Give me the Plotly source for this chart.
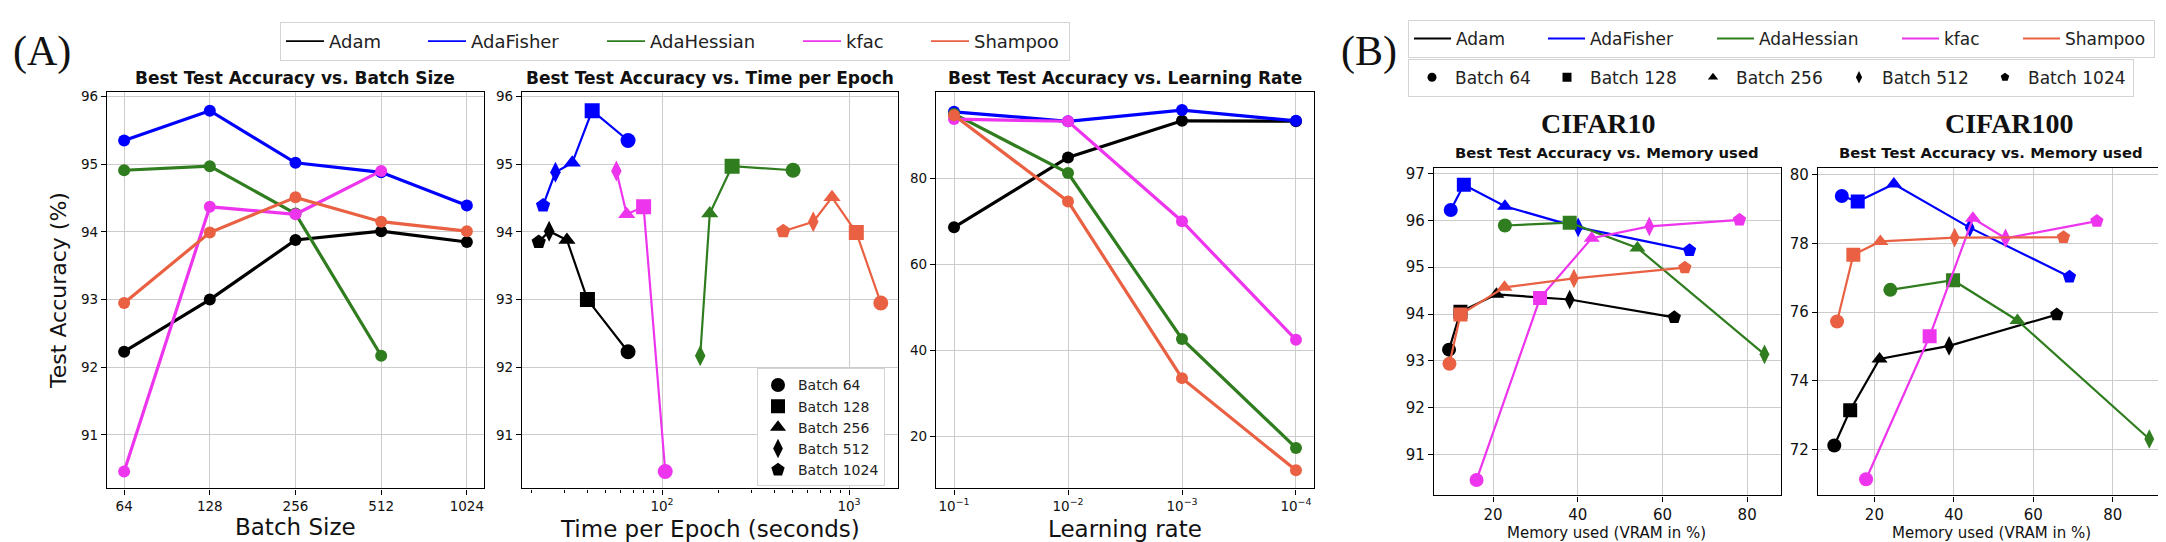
import plotly.graph_objects as go

W, H = 2166, 542

# ---------------- data ----------------
optimizers = ["Adam", "AdaFisher", "AdaHessian", "kfac", "Shampoo"]
colors = ["black", "#0000ff", "#2f7d1f", "#ee35ee", "#e96142"]

batch_sizes = [64, 128, 256, 512, 1024]
batch_labels = ["Batch 64", "Batch 128", "Batch 256", "Batch 512", "Batch 1024"]
batch_symbols = ["circle", "square", "triangle-up", "diamond-tall", "pentagon"]

# best test accuracy (CIFAR10) per batch size, None = no run
acc_adam = [92.23, 93.00, 93.88, 94.01, 93.85]
acc_adafisher = [95.35, 95.79, 95.02, 94.88, 94.39]
acc_adahessian = [94.91, 94.97, 94.27, 92.17, None]
acc_kfac = [90.46, 94.37, 94.26, 94.90, None]
acc_shampoo = [92.95, 93.99, 94.51, 94.15, 94.01]

# time per epoch (seconds) per batch size
time_adam = [65.8, 39.9, 31.0, 24.9, 21.9]
time_adafisher = [65.8, 42.3, 33.1, 26.9, 23.1]
time_adahessian = [502, 237, 180, 160, None]
time_kfac = [104, 79.7, 64.7, 57.0, None]
time_shampoo = [1479, 1094, 811, 644, 445]

# best test accuracy vs learning rate
learning_rates = [1e-1, 1e-2, 1e-3, 1e-4]
lr_adam = [68.6, 84.8, 93.3, 93.2]
lr_adafisher = [95.4, 93.2, 95.8, 93.3]
lr_adahessian = [94.9, 81.2, 42.7, 17.4]
lr_kfac = [93.7, 93.2, 70.0, 42.5]
lr_shampoo = [94.6, 74.6, 33.6, 12.2]

# memory used (VRAM %) and accuracy, CIFAR10
mem10_adam = [9.6, 12.3, 20.8, 38.1, 62.8]
mem10_adafisher = [10.0, 13.1, 22.8, 40.1, 66.4]
mem10_adahessian = [22.8, 38.1, 54.1, 84.1, None]
mem10_kfac = [16.1, 31.1, 43.3, 56.9, 78.2]
mem10_shampoo = [9.7, 12.3, 22.7, 39.1, 65.3]
c10_adam = [93.24, 94.05, 94.42, 94.31, 93.93]
c10_adafisher = [96.22, 96.76, 96.30, 95.85, 95.36]
c10_adahessian = [95.89, 95.95, 95.41, 93.14, None]
c10_kfac = [90.46, 94.34, 95.62, 95.87, 96.01]
c10_shampoo = [92.94, 93.99, 94.57, 94.76, 94.99]

# memory used (VRAM %) and accuracy, CIFAR100
mem100_adam = [9.9, 13.9, 21.3, 38.8, 65.9]
mem100_adafisher = [11.8, 15.8, 24.9, 44.0, 69.1]
mem100_adahessian = [24.0, 39.8, 56.0, 89.2, None]
mem100_kfac = [17.9, 33.9, 44.8, 53.0, 76.0]
mem100_shampoo = [10.6, 14.7, 21.5, 40.2, 67.6]
c100_adam = [72.12, 73.15, 74.64, 75.02, 75.93]
c100_adafisher = [79.38, 79.22, 79.73, 78.46, 77.03]
c100_adahessian = [76.65, 76.93, 75.76, 72.31, None]
c100_kfac = [71.14, 75.30, 78.73, 78.15, 78.65]
c100_shampoo = [75.73, 77.67, 78.06, 78.17, 78.18]

acc_batch = [acc_adam, acc_adafisher, acc_adahessian, acc_kfac, acc_shampoo]
time_batch = [time_adam, time_adafisher, time_adahessian, time_kfac, time_shampoo]
acc_lr = [lr_adam, lr_adafisher, lr_adahessian, lr_kfac, lr_shampoo]
mem10 = [mem10_adam, mem10_adafisher, mem10_adahessian, mem10_kfac, mem10_shampoo]
acc10 = [c10_adam, c10_adafisher, c10_adahessian, c10_kfac, c10_shampoo]
mem100 = [mem100_adam, mem100_adafisher, mem100_adahessian, mem100_kfac, mem100_shampoo]
acc100 = [c100_adam, c100_adafisher, c100_adahessian, c100_kfac, c100_shampoo]


def xdom(a, b):
    return [a / W, b / W]


def ydom(top, bottom):
    return [1 - bottom / H, 1 - top / H]


fig = go.Figure()

for name, col, acc, t, lr_acc, m10, a10, m100, a100 in zip(
        optimizers, colors, acc_batch, time_batch, acc_lr, mem10, acc10, mem100, acc100):
    # batch size panel
    fig.add_trace(go.Scatter(x=batch_sizes, y=acc, mode="lines+markers", showlegend=False,
                             line=dict(color=col, width=3.2), marker=dict(size=12, color=col),
                             xaxis="x", yaxis="y"))
    # time per epoch panel
    fig.add_trace(go.Scatter(x=t, y=acc, mode="lines+markers", showlegend=False,
                             line=dict(color=col, width=2.2),
                             marker=dict(size=15, color=col, symbol=batch_symbols),
                             xaxis="x2", yaxis="y2"))
    # learning rate panel
    fig.add_trace(go.Scatter(x=learning_rates, y=lr_acc, mode="lines+markers", showlegend=False,
                             line=dict(color=col, width=3.2), marker=dict(size=12, color=col),
                             xaxis="x3", yaxis="y3"))
    # memory panels
    fig.add_trace(go.Scatter(x=m10, y=a10, mode="lines+markers", showlegend=False,
                             line=dict(color=col, width=2.2),
                             marker=dict(size=14, color=col, symbol=batch_symbols),
                             xaxis="x4", yaxis="y4"))
    fig.add_trace(go.Scatter(x=m100, y=a100, mode="lines+markers", showlegend=False,
                             line=dict(color=col, width=2.2),
                             marker=dict(size=14, color=col, symbol=batch_symbols),
                             xaxis="x5", yaxis="y5"))

# legend-only entries
lw_top = [89, 126, 143, 75, 90]
lw_b1 = [82, 117, 133, 69, 84]
lw_b2 = [84, 95, 95, 95, 100]
for name, col, w1, w2 in zip(optimizers, colors, lw_top, lw_b1):
    fig.add_trace(go.Scatter(x=[None], y=[None], mode="lines", name=name, legend="legend",
                             line=dict(color=col, width=1.8), legendwidth=w1))
    fig.add_trace(go.Scatter(x=[None], y=[None], mode="lines", name=name, legend="legend2",
                             line=dict(color=col, width=1.8), legendwidth=w2))
for lab, sym, w3 in zip(batch_labels, batch_symbols, lw_b2):
    fig.add_trace(go.Scatter(x=[None], y=[None], mode="markers", name=lab, legend="legend3",
                             marker=dict(symbol=sym, size=9, color="black"), legendwidth=w3))
    fig.add_trace(go.Scatter(x=[None], y=[None], mode="markers", name=lab, legend="legend4",
                             marker=dict(symbol=sym, size=14, color="black")))


def ax(**kw):
    d = dict(showline=True, linecolor="black", linewidth=1.3, mirror=True,
             ticks="outside", ticklen=5, tickcolor="black", tickwidth=1.1,
             showgrid=True, gridcolor="#cccccc", gridwidth=1.3, zeroline=False,
             tickfont=dict(size=13.5, color="#111111"))
    d.update(kw)
    return d


sup = ["10<sup>2</sup>", "10<sup>3</sup>"]
minor_t = [20, 30, 40, 50, 60, 70, 80, 90, 200, 300, 400, 500, 600, 700, 800, 900]

fig.update_layout(
    width=W, height=H, margin=dict(l=0, r=0, t=0, b=0),
    paper_bgcolor="white", plot_bgcolor="white",
    font=dict(family="DejaVu Sans", color="#111111"),
    xaxis=ax(domain=xdom(99, 476), anchor="y", type="log", range=[1.746, 3.0705],
             tickvals=batch_sizes, ticktext=[str(b) for b in batch_sizes]),
    yaxis=ax(domain=ydom(81, 480), anchor="x", range=[90.21, 96.06], dtick=1),
    xaxis2=ax(domain=xdom(514, 890), anchor="y2", type="log", range=[1.251, 3.262],
              tickvals=[100, 1000], ticktext=sup,
              minor=dict(tickvals=minor_t, ticks="outside", ticklen=3, tickcolor="black",
                         showgrid=False)),
    yaxis2=ax(domain=ydom(81, 480), anchor="x2", range=[90.21, 96.06], dtick=1),
    xaxis3=ax(domain=xdom(928, 1306), anchor="y3", type="log", range=[-0.842, -4.158],
              tickvals=learning_rates,
              ticktext=["10<sup>−1</sup>", "10<sup>−2</sup>", "10<sup>−3</sup>", "10<sup>−4</sup>"]),
    yaxis3=ax(domain=ydom(81, 480), anchor="x3", range=[8.0, 99.9], tickvals=[20, 40, 60, 80]),
    xaxis4=ax(domain=xdom(1426, 1773), anchor="y4", range=[6.05, 88.0], dtick=20,
              tickfont=dict(size=15, color="#111111")),
    yaxis4=ax(domain=ydom(157, 487), anchor="x4", range=[90.13, 97.12], dtick=1,
              tickfont=dict(size=15, color="#111111")),
    xaxis5=ax(domain=xdom(1810, 2156), anchor="y5", range=[5.8, 92.9], dtick=20,
              tickfont=dict(size=15, color="#111111")),
    yaxis5=ax(domain=ydom(157, 487), anchor="x5", range=[70.67, 80.2], dtick=2,
              tickfont=dict(size=15, color="#111111")),
)

leg_common = dict(xref="paper", yref="paper", xanchor="left", yanchor="top",
                  bgcolor="white", bordercolor="#d4d4d4", borderwidth=1)
fig.update_layout(
    legend=dict(x=272 / W, y=1 - 10 / H, orientation="h", itemwidth=38,
                font=dict(size=18, color="#222222"), **leg_common),
    legend2=dict(x=1400 / W, y=1 - 8 / H, orientation="h", itemwidth=37,
                 font=dict(size=17, color="#222222"), **leg_common),
    legend3=dict(x=1400 / W, y=1 - 47 / H, orientation="h", itemwidth=36,
                 font=dict(size=17, color="#222222"), **leg_common),
    legend4=dict(x=749 / W, y=1 - 359 / H, orientation="v", itemwidth=30,
                 font=dict(size=14, color="#222222"), **leg_common),
)

annos = []


def txt(s, x, y, size, family="DejaVu Sans", angle=0):
    annos.append(dict(text=s, x=x / W, y=1 - y / H, xref="paper", yref="paper",
                      xanchor="center", yanchor="middle", showarrow=False, textangle=angle,
                      font=dict(size=size, family=family, color="#111111")))


txt("(A)", 34, 40, 42, family="Liberation Serif")
txt("(B)", 1361, 40, 42, family="Liberation Serif")
txt("<b>Best Test Accuracy vs. Batch Size</b>", 287, 66, 17)
txt("<b>Best Test Accuracy vs. Time per Epoch</b>", 702, 66, 17)
txt("<b>Best Test Accuracy vs. Learning Rate</b>", 1117, 66, 17)
txt("Test Accuracy (%)", 51, 281, 22, angle=-90)
txt("Batch Size", 287, 519, 23)
txt("Time per Epoch (seconds)", 702, 521, 23)
txt("Learning rate", 1117, 521, 23)
txt("<b>CIFAR10</b>", 1590, 112, 28, family="Liberation Serif")
txt("<b>CIFAR100</b>", 2002, 112, 28, family="Liberation Serif")
txt("<b>Best Test Accuracy vs. Memory used</b>", 1599, 142, 14.8)
txt("<b>Best Test Accuracy vs. Memory used</b>", 1983, 142, 14.8)
txt("Memory used (VRAM in %)", 1599, 525, 15)
txt("Memory used (VRAM in %)", 1983, 525, 15)
fig.update_layout(annotations=annos)

fig.write_html("out.html")
